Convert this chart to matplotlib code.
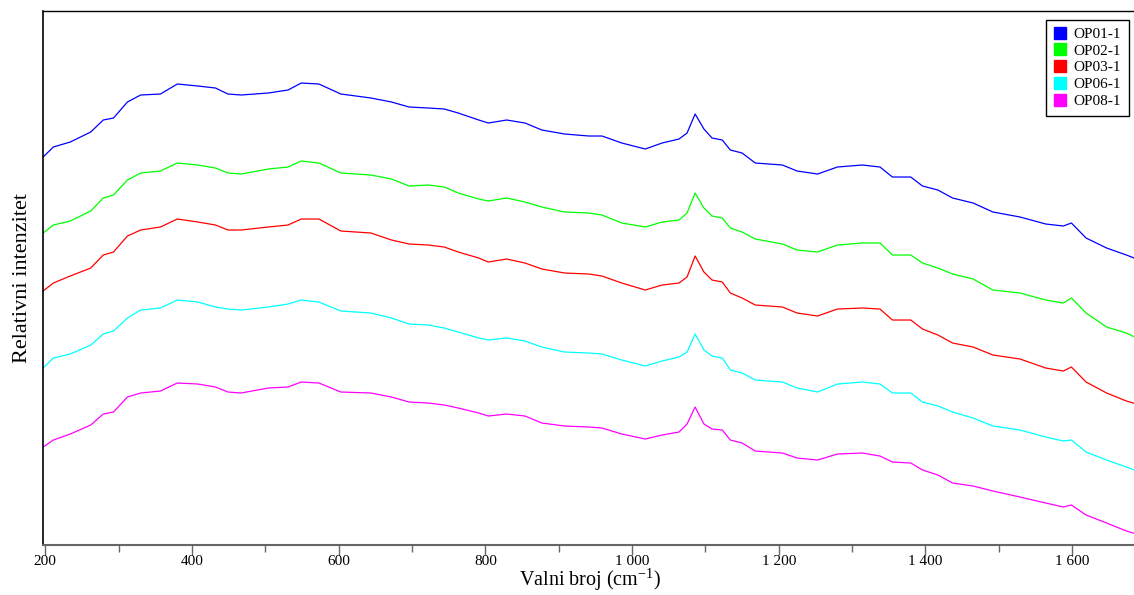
import matplotlib
matplotlib.use("Agg")
import matplotlib.pyplot as plt
from matplotlib.ticker import FuncFormatter, MultipleLocator

plt.rcParams["font.family"] = ["Liberation Serif", "DejaVu Serif"]

# wavenumber grid (cm-1)
wavenumber = [197, 211, 234, 262, 279, 293, 312, 330, 357, 380, 408, 432, 449, 467,
              504, 531, 549, 573, 603, 644, 672, 696, 722, 744, 763, 791, 804, 829,
              854, 877, 908, 941, 959, 986, 1018, 1041, 1064, 1075, 1086, 1098, 1109,
              1123, 1134, 1150, 1168, 1205, 1225, 1253, 1280, 1314, 1338, 1355, 1380,
              1396, 1417, 1437, 1465, 1492, 1529, 1564, 1588, 1599, 1619, 1647, 1674,
              1688]

# stacked relative intensities (arbitrary units, offset per sample)
op01 = [388, 398, 403, 413, 425, 427, 443, 450, 451, 461, 459, 457, 451, 450, 452,
        455, 462, 461, 451, 447, 443, 438, 437, 436, 432, 425, 422, 425, 422, 415,
        411, 409, 409, 402, 396, 402, 406, 412, 431, 416, 407, 405, 395, 392, 382,
        380, 374, 371, 378, 380, 378, 368, 368, 359, 355, 347, 342, 333, 328, 321,
        319, 322, 307, 297, 290, 286]
op02 = [312, 320, 324, 334, 347, 350, 365, 372, 374, 382, 380, 377, 372, 371, 376,
        378, 384, 382, 372, 370, 366, 359, 360, 358, 352, 346, 344, 347, 343, 338,
        333, 332, 330, 322, 318, 323, 325, 332, 352, 337, 329, 327, 317, 313, 306,
        301, 295, 293, 300, 302, 302, 290, 290, 282, 277, 271, 266, 255, 252, 245,
        242, 247, 232, 218, 212, 207]
op03 = [254, 262, 269, 277, 290, 293, 309, 315, 318, 326, 323, 320, 315, 315, 318,
        320, 326, 326, 314, 312, 305, 301, 300, 298, 293, 287, 283, 286, 282, 276,
        272, 271, 269, 262, 255, 260, 262, 268, 289, 273, 265, 263, 252, 247, 240,
        238, 232, 229, 236, 237, 236, 225, 225, 216, 210, 202, 198, 190, 186, 177,
        174, 178, 163, 152, 144, 141]
op06 = [177, 187, 191, 200, 211, 214, 227, 235, 237, 245, 243, 238, 236, 235, 238,
        241, 245, 243, 234, 232, 227, 221, 220, 217, 213, 207, 205, 207, 204, 198,
        193, 192, 191, 185, 179, 184, 188, 193, 211, 195, 189, 187, 175, 172, 165,
        163, 157, 153, 161, 163, 161, 152, 152, 143, 139, 133, 127, 119, 115, 108,
        104, 105, 93, 85, 78, 74]
op08 = [98, 105, 111, 120, 131, 133, 148, 152, 154, 162, 161, 158, 153, 152, 157,
        158, 163, 162, 153, 152, 148, 143, 142, 140, 137, 132, 129, 131, 129, 122,
        119, 118, 117, 111, 106, 110, 113, 121, 138, 121, 116, 115, 105, 102, 94,
        92, 87, 85, 91, 92, 89, 83, 82, 75, 70, 62, 59, 54, 48, 42,
        38, 40, 30, 22, 14, 11]

labels = ["OP01-1", "OP02-1", "OP03-1", "OP06-1", "OP08-1"]
series = [op01, op02, op03, op06, op08]
colors = ["#0000ff", "#00ff00", "#ff0000", "#00ffff", "#ff00ff"]

fig = plt.figure(figsize=(11.34, 5.95), dpi=100)
ax = fig.add_axes([0.038, 0.084, 0.965, 0.8975])

for y, lab, c in zip(series, labels, colors):
    ax.plot(wavenumber, y, color=c, linewidth=0.9, label=lab)

ax.set_xlim(197, 1689)
ax.set_ylim(0, 534)

ax.xaxis.set_major_locator(MultipleLocator(200))
ax.xaxis.set_minor_locator(MultipleLocator(100))
ax.xaxis.set_major_formatter(FuncFormatter(lambda v, p: f"{int(v):,}".replace(",", " ")))
ax.tick_params(axis="x", which="major", length=7, width=1, color="#666666",
               labelsize=11, pad=0)
ax.tick_params(axis="x", which="minor", length=5, width=1, color="#666666")
ax.set_yticks([])

ax.spines["right"].set_visible(False)
ax.spines["bottom"].set_color("#666666")
ax.spines["bottom"].set_linewidth(1.5)
ax.spines["left"].set_linewidth(1.2)
ax.spines["top"].set_linewidth(1.0)

ax.set_xlabel("Valni broj (cm$^{\\mathregular{-1}}$)", fontsize=14.5, labelpad=-1.5)
ax.set_ylabel("Relativni intenzitet", fontsize=16, labelpad=8)

# square markers in the legend
handles = [plt.Line2D([], [], marker="s", linestyle="none", markersize=8,
                      markerfacecolor=c, markeredgecolor=c) for c in colors]
leg = ax.legend(handles, labels, loc="upper right", bbox_to_anchor=(0.992, 0.984),
                borderaxespad=0, fontsize=11, handlelength=0.8, handletextpad=0.5,
                labelspacing=0.2, borderpad=0.5, fancybox=False,
                edgecolor="black", framealpha=1)
leg.get_frame().set_linewidth(1.0)

fig.savefig("out.png", dpi=100)
